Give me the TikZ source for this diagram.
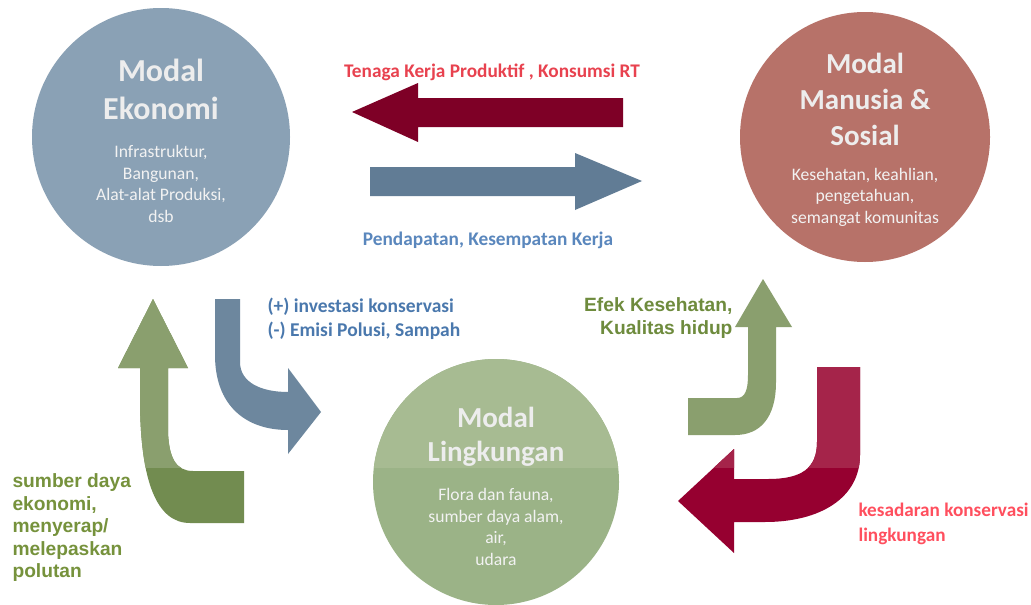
\documentclass[tikz,border=0pt]{standalone}
\usepackage{fontspec}
\setmainfont{Carlito}
\newfontfamily\arialfont{Liberation Sans}
\begin{document}
\begin{tikzpicture}[x=1pt,y=-1pt,
  capcircle/.style={circle,inner sep=0pt,draw=none},
  ctitle/.style={text=white!93!black,font=\bfseries\fontsize{29}{37}\selectfont,align=center},
  csub/.style={text=white!95!black,font=\fontsize{17.6}{21.5}\selectfont,align=center},
  lbl/.style={font=\bfseries\fontsize{19.3}{23}\selectfont},
  albl/.style={font=\arialfont\bfseries\fontsize{19.2}{22.5}\selectfont},
]
\definecolor{ekoC}{HTML}{8AA1B5}
\definecolor{manC}{HTML}{B77269}
\definecolor{linC}{HTML}{9BB387}
\definecolor{linU}{HTML}{A7BB92}
\definecolor{grnL}{HTML}{728C50}
\definecolor{grnU}{HTML}{8A9F6E}
\definecolor{redL}{HTML}{960030}
\definecolor{redU}{HTML}{A5244A}
\definecolor{redT}{HTML}{7E0026}
\definecolor{bluR}{HTML}{617C95}
\definecolor{bluB}{HTML}{6D879E}
\definecolor{txtRed}{HTML}{E8424F}
\definecolor{txtBlue}{HTML}{5A87BD}
\definecolor{txtBlue2}{HTML}{4A78AD}
\definecolor{txtGrn}{HTML}{76923C}
\definecolor{txtGrn2}{HTML}{6E8B3D}
\definecolor{txtPink}{HTML}{FF4F5E}

\useasboundingbox (0,0) rectangle (1031,605);
\fill[white] (0,0) rectangle (1031,605);

% circles
\node[capcircle,fill=ekoC,minimum size=258pt] (eko) at (161,137) {};
\node[capcircle,fill=manC,minimum size=250pt] (man) at (865,137) {};
\node[capcircle,fill=linC,minimum size=246pt] (ling) at (496,482) {};
\begin{scope}
  \clip (0,0) rectangle (1031,467);
  \fill[linU] (ling.center) circle (123);
\end{scope}

% top arrows
\fill[redT] (623,98) -- (418,98) -- (418,83) -- (352,112) -- (418,142) -- (418,127) -- (623,127) -- cycle;
\fill[bluR] (370,167) -- (575,167) -- (575,153) -- (642,181) -- (575,210) -- (575,196) -- (370,196) -- cycle;

% blue bent arrow
\fill[bluB] (215,299) -- (240,299) -- (240,362) .. controls (240,383) and (262,392) .. (288,392)
  -- (288,368) -- (321,412) -- (288,454) -- (288,430) .. controls (245,430) and (215,405) .. (215,355) -- cycle;

% green left arrow
\def\grnleft{(153,299) -- (188,368) -- (168,368) -- (168,432) .. controls (169,458) and (176,471) .. (193,471)
  -- (244,471) -- (244,523) -- (190,523) .. controls (156,523) and (141,480) .. (140,405) -- (140,368) -- (118,368) -- cycle}
\fill[grnL] \grnleft;
\begin{scope}
  \clip (0,0) rectangle (1031,467);
  \fill[grnU] \grnleft;
\end{scope}

% green right arrow
\fill[grnU] (763,279) -- (792,327) -- (776,327) -- (776,382) .. controls (776,418) and (760,435) .. (735,435)
  -- (688,435) -- (688,398) -- (737,398) .. controls (745,398) and (748,390) .. (748,375) -- (748,327) -- (735,327) -- cycle;

% red right arrow
\def\redright{(817,367) -- (860,367) -- (860,455) .. controls (860,498) and (820,522) .. (765,522)
  -- (734,522) -- (734,553) -- (678,501) -- (734,449) -- (734,479) -- (768,479) .. controls (802,479) and (817,468) .. (817,442) -- cycle}
\fill[redL] \redright;
\begin{scope}
  \clip (0,0) rectangle (1031,467);
  \fill[redU] \redright;
\end{scope}

% circle texts
\node[ctitle,font=\bfseries\fontsize{32}{38}\selectfont] (ekoT) at (161,89) {Modal\\Ekonomi};
\node[csub] (ekoS) at (161,184) {Infrastruktur,\\Bangunan,\\Alat-alat Produksi,\\dsb};
\node[ctitle,font=\bfseries\fontsize{29}{36}\selectfont] (manT) at (865,99) {Modal\\Manusia \&\\Sosial};
\node[csub] (manS) at (865,197) {Kesehatan, keahlian,\\pengetahuan,\\semangat komunitas};
\node[ctitle,font=\bfseries\fontsize{29}{34}\selectfont] (linT) at (496,437) {Modal\\Lingkungan};
\node[csub] (linS) at (496,527) {Flora dan fauna,\\sumber daya alam,\\air,\\udara};

% labels
\node[lbl,text=txtRed] (l1) at (492,72) {Tenaga Kerja Produktif , Konsumsi RT};
\node[lbl,text=txtBlue] (l2) at (488,240) {Pendapatan, Kesempatan Kerja};
\node[lbl,text=txtBlue2,align=left,anchor=west,font=\bfseries\fontsize{19.5}{24}\selectfont] (l3) at (264,319) {(+) investasi konservasi\\(-) Emisi Polusi, Sampah};
\node[albl,text=txtGrn,align=left,anchor=west] (l4) at (9,528) {sumber daya\\ekonomi,\\menyerap/\\melepaskan\\polutan};
\node[albl,text=txtGrn2,align=right,anchor=east] (l5) at (736,318) {Efek Kesehatan,\\Kualitas hidup};
\node[lbl,text=txtPink,align=left,anchor=west,font=\bfseries\fontsize{19.2}{25}\selectfont] (l6) at (855,524) {kesadaran konservasi\\lingkungan};
\end{tikzpicture}
\end{document}
